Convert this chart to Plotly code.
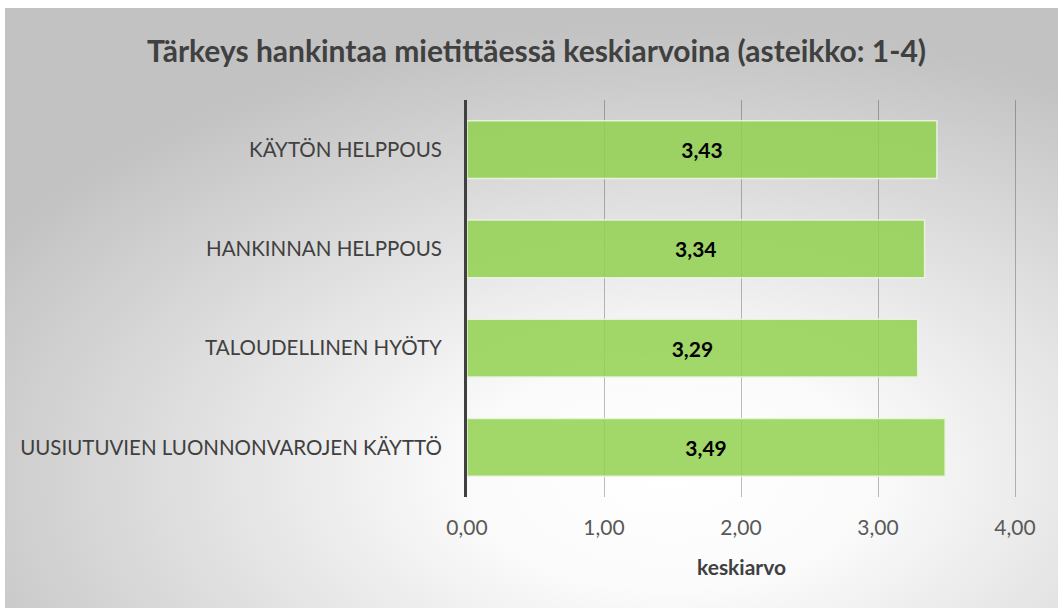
import base64
import plotly.graph_objects as go

categories = ["KÄYTÖN HELPPOUS", "HANKINNAN HELPPOUS", "TALOUDELLINEN HYÖTY",
              "UUSIUTUVIEN LUONNONVAROJEN KÄYTTÖ"]
values = [3.43, 3.34, 3.29, 3.49]
x_ticks = [0, 1, 2, 3, 4]
title_text = "Tärkeys hankintaa mietittäessä keskiarvoina (asteikko: 1-4)"
x_title = "keskiarvo"

W, H = 1058, 608

svg = (
    '<svg xmlns="http://www.w3.org/2000/svg" width="1053" height="600" '
    'preserveAspectRatio="none" viewBox="0 0 1053 600">'
    '<defs><radialGradient id="g" cx="0.63" cy="0.78" r="0.75" '
    'gradientUnits="objectBoundingBox">'
    '<stop offset="0" stop-color="#ffffff"/>'
    '<stop offset="0.25" stop-color="#fbfbfb"/>'
    '<stop offset="1" stop-color="#c2c2c2"/>'
    '</radialGradient></defs>'
    '<rect x="0" y="0" width="1053" height="600" fill="url(#g)"/></svg>'
)
src = "data:image/svg+xml;base64," + base64.b64encode(svg.encode()).decode()

texts = [f"{v:.2f}".replace(".", ",") for v in values]

fig = go.Figure()
fig.add_trace(go.Bar(
    y=categories, x=values, orientation="h",
    marker=dict(color="rgba(146,208,80,0.85)",
                line=dict(color="rgba(235,245,225,0.9)", width=1.5)),
    width=0.58,
    text=texts, textposition="inside", insidetextanchor="middle",
    textfont=dict(family="Lato", size=21, color="#000000", weight="bold"),
    textangle=0,
    hoverinfo="skip",
))

px_l, px_r, px_t, px_b = 467, 1015, 100, 497
x_max = 4.03
fig.update_layout(
    width=W, height=H, autosize=False,
    margin=dict(l=0, r=0, t=0, b=0),
    paper_bgcolor="#ffffff",
    plot_bgcolor="rgba(0,0,0,0)",
    separators=",.",
    showlegend=False,
    images=[dict(source=src, xref="paper", yref="paper",
                 x=5 / W, y=1 - 8 / H, sizex=(W - 5) / W, sizey=(H - 8) / H,
                 xanchor="left", yanchor="top", sizing="stretch", layer="below")],
    xaxis=dict(domain=[px_l / W, (px_l + (px_r - px_l) * x_max / 4) / W],
               range=[0, x_max], tickvals=x_ticks,
               tickformat=".2f", showgrid=True, gridcolor="rgba(0,0,0,0.26)",
               gridwidth=1.3,
               zeroline=False, showline=False, ticks="", ticklabelstandoff=16,
               tickfont=dict(family="Lato", size=21, color="#595959"),
               automargin=False, fixedrange=True),
    yaxis=dict(domain=[1 - px_b / H, 1 - px_t / H], autorange="reversed",
               showline=True, linecolor="#404040", linewidth=3,
               showgrid=False, ticks="", ticklabelstandoff=18,
               tickfont=dict(family="Lato", size=20.5, color="#404040"),
               automargin=False, fixedrange=True),
    annotations=[
        dict(text=f"<b>{title_text}</b>", xref="paper", yref="paper",
             x=536 / W, y=1 - 50 / H, xanchor="center", yanchor="middle",
             showarrow=False, font=dict(family="Lato", size=30, color="#404040")),
        dict(text=f"<b>{x_title}</b>", xref="paper", yref="paper",
             x=741 / W, y=1 - 566 / H, xanchor="center", yanchor="middle",
             showarrow=False, font=dict(family="Lato", size=21, color="#404040")),
    ],
)

fig.write_html(
    "out.html",
    config={"responsive": False, "displayModeBar": False},
    post_script="document.body.style.margin='0';document.body.style.overflow='hidden';",
)
